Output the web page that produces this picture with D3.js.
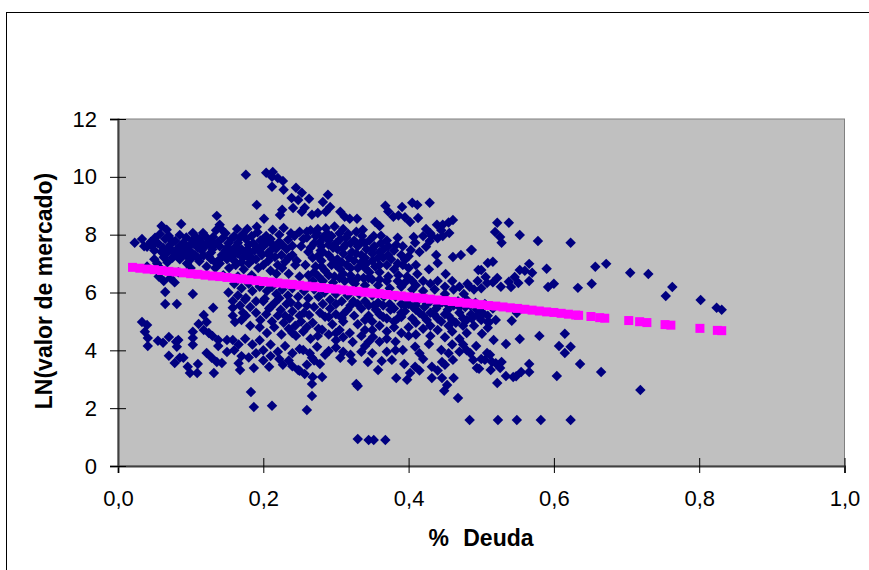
<!DOCTYPE html>
<html>
<head>
<meta charset="utf-8">
<script src="https://cdn.jsdelivr.net/npm/d3@7"></script>
<style>
  html, body { margin: 0; padding: 0; background: #fff; overflow: hidden; }
  text { font-family: "Liberation Sans", Arial, sans-serif; fill: #000; }
</style>
</head>
<body>
<div id="chart"></div>
<script>
// [% deuda, ln(valor de mercado)], grouped by area of the cloud
const topPeak = [[.176,10.07],[.204,10.14],[.213,10.17],[.212,10],[.22,9.96],[.227,9.86],[.212,9.66],[.228,9.55],[.239,9.27],[.248,9.2],[.191,9.03],[.241,8.92],[.226,8.86],[.223,8.68],[.201,8.55],[.136,8.65],[.14,8.34],[.087,8.37],[.245,9.62],[.253,9.45],[.263,9.24],[.289,9.38],[.282,9.13],[.257,8.93],[.253,8.79],[.292,8.96],[.286,8.79],[.267,8.69],[.275,8.75],[.306,8.79],[.312,8.62],[.319,8.55],[.329,8.55],[.368,9],[.391,8.96],[.405,9.1],[.412,9.03],[.429,9.1],[.379,8.62],[.354,8.44],[.36,8.3],[.372,8.8],[.386,8.66],[.402,8.44],[.413,8.58],[.395,8.6],[.461,8.51],[.455,8.42],[.447,8.34],[.439,8.34],[.456,8.06],[.424,8.2]];
const upperLeft = [[.023,7.72],[.033,7.85],[.04,7.58],[.06,8.3],[.067,8.17],[.051,7.89],[.085,7.99],[.103,8.06],[.117,8.06],[.131,7.92],[.164,8.2],[.178,8.2],[.191,8.27],[.213,8.17],[.234,7.82],[.25,8.1],[.232,7.5],[.213,7.65],[.216,7.23],[.23,7.06],[.22,6.95],[.228,8.23],[.036,7.6],[.045,7.75],[.05,7.45],[.055,7.7],[.058,8.02],[.062,7.55],[.065,7.85],[.07,7.95],[.072,7.65],[.076,7.4],[.079,7.78],[.083,7.55],[.09,7.72],[.094,7.9],[.098,7.6],[.102,7.8],[.108,7.9],[.11,7.55],[.115,7.72],[.12,7.6],[.125,7.78],[.13,7.5],[.14,7.6],[.145,7.9],[.148,8.05],[.152,7.7],[.156,7.45],[.16,7.95],[.165,7.72],[.17,7.5],[.172,8.02],[.176,7.85],[.18,7.65],[.184,7.95],[.188,7.45],[.192,8.08],[.196,7.8],[.2,7.6],[.204,7.95],[.206,7.35],[.143,7.3],[.135,8.15],[.142,8.2],[.05,7.15],[.054,7],[.058,6.85],[.063,7.22],[.068,7.05],[.072,6.5],[.078,6.35],[.083,6.7],[.085,7.15],[.09,7.3],[.095,7],[.1,6.85],[.106,7.3],[.112,7.08],[.118,7.28],[.122,6.9],[.128,7.15],[.134,6.85],[.14,7],[.145,6.6],[.15,7.15],[.153,6.85],[.158,7.25],[.162,6.95],[.165,6.55],[.17,7.05],[.173,6.8],[.178,7.25],[.18,7],[.184,6.6],[.19,7.15],[.193,6.85],[.198,7.3],[.2,6.95],[.207,7.1],[.21,6.75],[.218,6.65],[.226,6.85],[.235,6.65],[.24,7.3],[.246,7.1],[.244,6.95],[.243,7.95],[.252,7.6],[.255,7.85],[.04,6.9],[.056,6.55],[.063,6.4],[.068,7.38],[.087,7.42],[.1,7.42],[.115,7.45],[.128,7.38],[.148,7.45],[.165,7.35],[.182,7.38],[.195,7.55],[.112,7.85],[.128,7.62],[.138,7.75],[.156,7.85],[.168,7.9],[.186,7.7],[.2,7.85],[.21,7.85],[.222,7.75],[.222,8],[.238,8.05],[.092,7.5],[.075,7.2],[.1,7.15],[.135,7.02],[.152,7.35],[.172,7.2],[.186,7.15],[.21,7.45],[.225,7.3],[.235,7.2]];
const upperMiddle = [[.26,7.9],[.265,8.15],[.27,7.7],[.274,8.05],[.279,7.45],[.282,7.9],[.286,8.22],[.29,7.65],[.294,7.95],[.298,8.28],[.302,7.5],[.306,7.85],[.31,8.2],[.313,7.65],[.317,8.02],[.322,7.4],[.325,7.8],[.33,7.6],[.336,7.95],[.337,8.17],[.342,7.5],[.346,7.8],[.35,7.35],[.353,7.6],[.358,7.2],[.362,7.96],[.366,7.5],[.37,7.8],[.385,7.89],[.407,7.92],[.409,7.72],[.403,7.47],[.424,7.58],[.429,7.78],[.438,7.3],[.461,7.23],[.472,7.3],[.486,7.47],[.44,7.02],[.496,6.78],[.451,6.64],[.412,6.64],[.428,6.8],[.395,7.13],[.385,7],[.4,6.85],[.41,6.95],[.39,7.3],[.38,7.45],[.376,7.15],[.37,6.95],[.372,6.55],[.386,6.6],[.398,6.55],[.44,7.88],[.447,7.95],[.262,7.4],[.268,7.2],[.272,6.9],[.276,6.55],[.28,7.1],[.285,6.75],[.29,7.3],[.294,6.95],[.298,6.55],[.302,7.15],[.306,6.8],[.31,7.35],[.315,6.95],[.32,6.6],[.325,7.1],[.33,6.85],[.335,7.3],[.338,6.5],[.342,7],[.346,6.7],[.35,6.45],[.354,6.9],[.258,6.95],[.262,6.6],[.25,6.55],[.268,6.4],[.282,6.4],[.296,6.35],[.312,6.4],[.326,6.3],[.34,6.25],[.358,6.25],[.374,6.15],[.39,6.2],[.405,6.1],[.42,6.05],[.436,6.1],[.45,5.95],[.462,6.1],[.476,5.95],[.484,6.2],[.487,7.47],[.516,7.06],[.509,7.02],[.5,6.78],[.506,6.54],[.508,6.33],[.481,6.3],[.49,6.1],[.495,6.4],[.5,6.15],[.516,6.35],[.522,6.5],[.527,6.2],[.522,8.41],[.538,8.41],[.519,8.09],[.526,7.92],[.528,7.72],[.553,7.99],[.578,7.78],[.623,7.72],[.566,6.99],[.57,6.68],[.553,6.78],[.56,6.75],[.59,6.82],[.546,6.54],[.538,6.37],[.541,6.19],[.551,6.33],[.566,6.4],[.6,6.3],[.592,6.19],[.633,6.16],[.652,6.3],[.657,6.89],[.672,6.99],[.705,6.68],[.73,6.64],[.763,6.19],[.754,5.88],[.802,5.74],[.824,5.47],[.831,5.4],[.26,8.1],[.272,7.95],[.288,8.05],[.3,7.7],[.314,7.9],[.328,8.1],[.34,7.7],[.352,7.95],[.362,7.7],[.265,7.55],[.278,7.75],[.296,7.55],[.31,7.55],[.328,7.35],[.34,7.2],[.36,7.4],[.372,7.3],[.275,7.25],[.3,6.95],[.318,7.2],[.34,6.85],[.36,6.7],[.38,6.8],[.392,6.95],[.27,6.7],[.31,6.65],[.33,6.5],[.36,6.45],[.385,6.4],[.405,6.4],[.42,6.4],[.44,6.4],[.46,6.4]];
const centerCore = [[.16,6.3],[.17,6.15],[.18,6.3],[.185,6.05],[.195,6.2],[.205,6.05],[.212,6.2],[.218,5.95],[.226,6.1],[.234,5.9],[.24,6.15],[.248,5.85],[.256,6.05],[.262,5.8],[.27,6.1],[.276,5.85],[.284,6],[.292,5.75],[.3,5.95],[.308,5.7],[.316,5.9],[.324,5.7],[.332,5.95],[.34,5.7],[.35,5.9],[.358,5.65],[.366,5.85],[.374,5.6],[.382,5.85],[.39,5.6],[.398,5.8],[.406,5.5],[.414,5.75],[.422,5.5],[.43,5.7],[.438,5.45],[.446,5.65],[.454,5.4],[.462,5.55],[.47,5.3],[.478,5.5],[.486,5.25],[.494,5.4],[.502,5.3],[.509,5.2],[.516,5.45],[.2,5.7],[.208,5.45],[.216,5.65],[.224,5.4],[.232,5.6],[.24,5.35],[.248,5.55],[.256,5.3],[.263,5.22],[.27,5.5],[.278,5.3],[.285,5.16],[.292,5.45],[.3,5.25],[.308,5.12],[.316,5.4],[.325,5.2],[.335,5.45],[.345,5.2],[.355,5.4],[.365,5.15],[.375,5.4],[.385,5.1],[.395,5.35],[.405,5.1],[.415,5.3],[.425,5.05],[.435,5.25],[.445,5],[.455,5.2],[.465,4.95],[.475,5.1],[.19,5.3],[.196,5.05],[.204,5.25],[.212,5],[.22,5.2],[.228,4.95],[.236,5.1],[.244,4.85],[.252,5],[.26,4.8],[.268,4.95],[.276,4.75],[.281,4.71],[.295,4.9],[.305,4.7],[.319,4.6],[.33,4.9],[.34,4.7],[.351,4.46],[.36,4.85],[.37,4.65],[.38,4.8],[.39,4.6],[.4,4.8],[.41,4.55],[.42,4.75],[.43,4.5],[.44,4.7],[.45,4.45],[.46,4.65],[.47,4.4],[.48,4.6],[.49,4.85],[.5,5.05],[.51,4.95],[.165,5.9],[.175,5.75],[.182,5.5],[.176,5.2],[.168,5.55],[.158,5.71],[.152,6],[.158,5.47],[.176,5.81],[.19,5.7],[.202,5.78],[.161,4.98],[.17,5.05],[.182,4.85],[.172,5.3],[.195,4.8],[.205,4.6],[.215,4.8],[.225,4.55],[.235,4.75],[.245,4.5],[.255,4.65],[.265,4.4],[.275,4.5],[.29,4.55],[.3,4.35],[.31,4.45],[.323,4.29],[.335,4.5],[.345,4.3],[.36,4.3],[.37,4.4],[.382,4.3],[.222,5.8],[.238,5.65],[.26,5.55],[.282,5.6],[.3,5.6],[.33,5.6],[.352,5.55],[.37,5.1],[.39,5.3],[.41,5.55],[.43,5.3],[.45,5.25],[.468,5.7],[.48,5.75],[.492,5.65],[.505,5.6],[.23,5.2],[.25,5.2],[.29,5.15],[.31,5],[.35,5],[.38,5],[.41,4.95],[.43,4.85],[.455,4.85],[.475,4.85],[.24,4.6],[.3,4.6],[.35,4.7],[.4,4.5],[.21,5.5],[.19,6.4]];
const lowerCloud = [[.065,6.02],[.103,5.95],[.065,5.6],[.081,5.6],[.131,5.47],[.118,5.22],[.033,4.98],[.04,4.88],[.037,4.64],[.041,4.43],[.041,4.15],[.055,4.33],[.062,4.26],[.07,4.46],[.083,4.36],[.08,4.3],[.081,4.12],[.07,3.81],[.078,3.56],[.085,3.74],[.09,3.74],[.096,3.43],[.099,3.22],[.109,3.22],[.11,3.53],[.103,4.64],[.103,4.43],[.103,4.19],[.111,4.91],[.122,4.98],[.118,4.7],[.125,4.6],[.13,4.5],[.138,4.36],[.138,4.15],[.122,3.91],[.129,3.74],[.136,3.6],[.143,3.56],[.132,3.22],[.15,4.36],[.15,3.94],[.158,4.36],[.166,4.2],[.16,4],[.17,3.8],[.168,3.32],[.166,3.55],[.187,3.39],[.208,3.43],[.227,3.5],[.248,3.32],[.183,2.56],[.187,2.04],[.212,2.08],[.158,5.2],[.175,4.4],[.185,4.2],[.195,4.35],[.2,4],[.21,4.2],[.22,3.95],[.23,4.15],[.24,3.9],[.25,4.05],[.255,4.01],[.264,3.9],[.274,4.12],[.29,3.98],[.267,3.74],[.278,3.53],[.306,3.74],[.322,3.63],[.31,3.95],[.32,3.85],[.344,3.6],[.335,3.95],[.363,3.63],[.358,3.32],[.35,3.9],[.37,3.95],[.377,3.67],[.392,4.01],[.394,3.53],[.382,4],[.409,4.12],[.428,4.22],[.445,4.01],[.409,3.43],[.402,3.22],[.383,3.04],[.398,2.98],[.432,3.43],[.432,3.04],[.446,3.6],[.461,3.67],[.446,3.04],[.462,3.04],[.453,2.8],[.449,2.6],[.468,2.35],[.25,3.29],[.257,3.18],[.268,3.08],[.281,3.08],[.267,2.84],[.267,2.42],[.26,1.94],[.328,2.84],[.33,2.77],[.46,4.2],[.475,4.2],[.48,4],[.489,3.67],[.494,3.39],[.485,3.9],[.497,3.36],[.18,3.75],[.19,3.9],[.2,3.65],[.21,3.8],[.222,3.7],[.235,3.65],[.24,3.45],[.26,3.5],[.27,3.65],[.285,3.85],[.3,4.1],[.34,4.15],[.42,3.7],[.415,3.9],[.455,3.9],[.47,3.95],[.45,3.5],[.415,3.3],[.44,3.3]];
const lowerRight = [[.33,.93],[.345,.9],[.352,.9],[.368,.9],[.484,1.59],[.523,1.59],[.549,1.59],[.582,1.59],[.623,1.59],[.719,2.63],[.522,2.87],[.549,5.29],[.542,5.02],[.501,4.57],[.509,4.78],[.517,4.36],[.534,4.22],[.553,4.39],[.58,4.5],[.615,4.57],[.607,4.15],[.623,4.12],[.615,3.91],[.636,3.53],[.665,3.25],[.604,3.11],[.566,3.53],[.566,3.25],[.555,3.25],[.544,3.08],[.548,3.1],[.534,3.11],[.526,3.39],[.528,3.6],[.52,3.55],[.513,3.32],[.493,4.15],[.508,3.91],[.505,3.67],[.512,3.85],[.5,3.7],[.515,3.6],[.487,5.1],[.5,5.2],[.51,5],[.52,5.05]];
const denseBlobs = [[.047,7.62],[.06,7.4],[.073,7.82],[.088,7.62],[.105,7.68],[.122,7.9],[.133,7.68],[.15,7.55],[.162,7.58],[.178,7.5],[.19,7.6],[.205,7.72],[.218,7.52],[.226,7.65],[.24,7.62],[.07,7.55],[.08,7.3],[.095,7.25],[.11,7.2],[.125,7.25],[.14,7.15],[.16,7.1],[.175,7.4],[.195,7.42],[.21,7.25],[.275,8.2],[.28,7.6],[.29,7.8],[.305,8.05],[.32,7.7],[.335,7.75],[.35,7.5],[.365,7.2],[.372,7.6],[.383,7.65],[.392,7.6],[.4,7.25],[.415,7.4],[.282,7.4],[.295,7.15],[.308,7.05],[.32,6.85],[.335,7.05],[.35,7.1],[.36,6.95],[.28,6.9],[.29,6.6],[.305,6.5],[.32,6.45],[.345,6.5],[.37,6.4],[.395,6.35],[.41,6.25],[.43,6.3],[.45,6.2],[.47,6.2],[.43,8.05],[.445,8.15],[.432,7.95],[.42,7.95],[.395,5.55],[.41,5.4],[.425,5.6],[.44,5.55],[.455,5.55],[.47,5.5],[.485,5.55],[.5,5.45],[.345,5.55],[.365,5.55],[.38,5.45],[.4,5.6],[.32,5.55],[.31,5.25],[.34,5.05],[.36,5.25],[.39,5.15],[.42,5.2],[.44,5.1],[.46,5.05],[.48,5.05],[.495,5.2]];

const trendDebt = [.02,.03,.04,.05,.06,.07,.08,.09,.10,.11,.12,.13,.14,.15,.16,.17,.18,.19,.20,.21,.22,.23,.24,.25,.26,.27,.28,.29,.30,.31,.32,.33,.34,.35,.36,.37,.38,.39,.40,.41,.42,.43,.44,.45,.46,.47,.48,.49,.50,.51,.52,.53,.54,.55,.56,.57,.58,.59,.60,.61,.62,.63,.634,.651,.663,.67,.703,.718,.728,.753,.761,.801,.825,.831];
const trendLn = [6.87,6.84,6.81,6.79,6.76,6.73,6.71,6.68,6.65,6.63,6.6,6.57,6.55,6.52,6.49,6.47,6.44,6.41,6.38,6.36,6.33,6.3,6.28,6.25,6.22,6.2,6.17,6.14,6.12,6.09,6.06,6.04,6.01,5.98,5.96,5.93,5.9,5.88,5.85,5.82,5.8,5.77,5.74,5.72,5.69,5.66,5.63,5.61,5.58,5.55,5.53,5.5,5.47,5.45,5.42,5.39,5.36,5.33,5.31,5.28,5.25,5.22,5.21,5.17,5.13,5.11,5.03,4.99,4.96,4.89,4.87,4.76,4.69,4.68];

const xTicks = [0, 0.2, 0.4, 0.6, 0.8, 1];
const yTicks = [0, 2, 4, 6, 8, 10, 12];

const svgWidth = 869, svgHeight = 570;
const plot = { left: 118, right: 844.5, top: 119, bottom: 466 };

const svg = d3.select("#chart").append("svg")
  .attr("width", svgWidth)
  .attr("height", svgHeight)
  .style("display", "block");

// chart area frame, runs off the picture on the right and at the bottom
svg.append("rect")
  .attr("x", 6.5).attr("y", 12.5)
  .attr("width", 900).attr("height", 600)
  .attr("fill", "#fff").attr("stroke", "#000");

const x = d3.scaleLinear().domain([0, 1]).range([plot.left, plot.right]);
const y = d3.scaleLinear().domain([0, 12]).range([plot.bottom, plot.top]);

svg.append("rect")
  .attr("x", plot.left).attr("y", plot.top)
  .attr("width", plot.right - plot.left).attr("height", plot.bottom - plot.top)
  .attr("fill", "#c0c0c0").attr("stroke", "#808080");

const firms = [].concat(topPeak, upperLeft, upperMiddle, centerCore, lowerCloud, lowerRight, denseBlobs);
const diamond = d3.symbol().type(d3.symbolDiamond2).size(70);

svg.append("g").selectAll("path")
  .data(firms)
  .join("path")
  .attr("d", diamond)
  .attr("transform", d => `translate(${x(d[0])},${y(d[1])})`)
  .attr("fill", "#000080");

svg.append("g").selectAll("rect")
  .data(trendDebt)
  .join("rect")
  .attr("x", d => x(d) - 4.5)
  .attr("y", (d, i) => y(trendLn[i]) - 4.5)
  .attr("width", 9)
  .attr("height", 9)
  .attr("fill", "#ff00ff");

// axes, ticks cross the axis line like in the original
const xAxis = d3.axisBottom(x)
  .tickValues(xTicks)
  .tickSize(7)
  .tickPadding(17)
  .tickFormat(d => d3.format(".1f")(d).replace(".", ","));

const gx = svg.append("g")
  .attr("transform", `translate(0,${plot.bottom})`)
  .call(xAxis);
gx.select(".domain").attr("stroke", "#404040").attr("stroke-width", 2);
gx.selectAll(".tick line").attr("y1", -8).attr("stroke", "#000");
gx.selectAll("text").attr("font-size", 22).attr("font-family", null).style("fill", "#000");

const yAxis = d3.axisLeft(y)
  .tickValues(yTicks)
  .tickSize(8)
  .tickPadding(13);

const gy = svg.append("g")
  .attr("transform", `translate(${plot.left},0)`)
  .call(yAxis);
gy.select(".domain").attr("stroke", "#404040").attr("stroke-width", 2);
gy.selectAll(".tick line").attr("x1", -8).attr("x2", 8).attr("stroke", "#000");
gy.selectAll("text").attr("font-size", 22).attr("font-family", null).style("fill", "#000");

svg.append("text")
  .attr("x", 481)
  .attr("y", 546)
  .attr("text-anchor", "middle")
  .attr("font-size", 23)
  .attr("font-weight", "bold")
  .attr("word-spacing", 8)
  .text("% Deuda");

svg.append("text")
  .attr("transform", "translate(52,291) rotate(-90)")
  .attr("text-anchor", "middle")
  .attr("font-size", 23)
  .attr("font-weight", "bold")
  .text("LN(valor de mercado)");
</script>
</body>
</html>
